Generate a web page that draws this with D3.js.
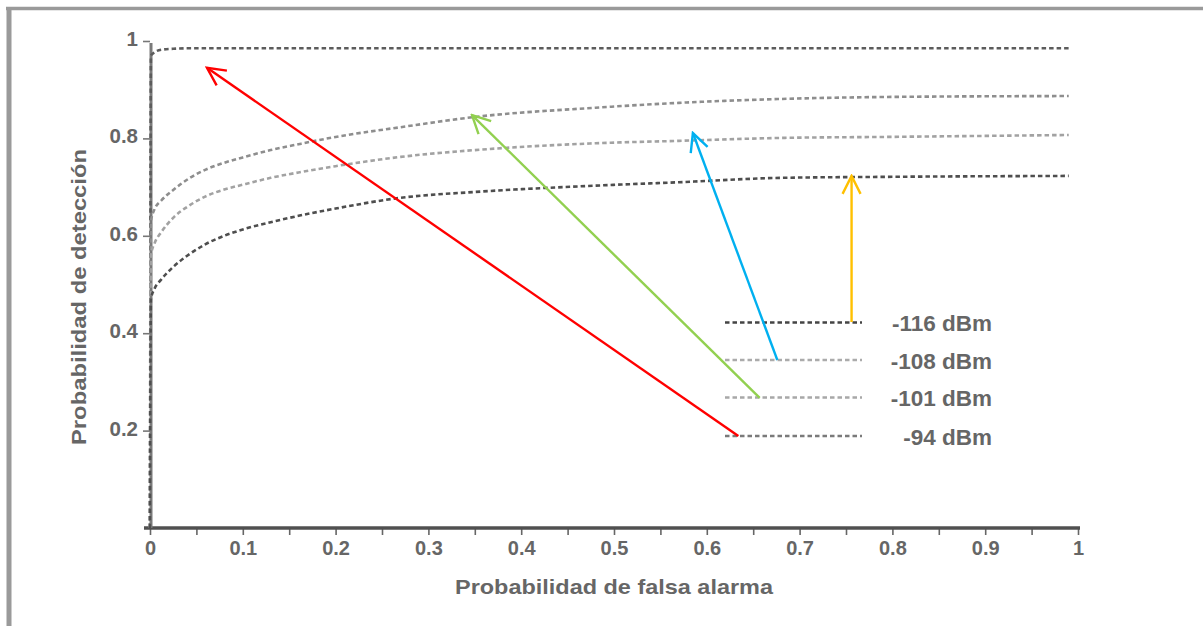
<!DOCTYPE html>
<html><head><meta charset="utf-8">
<script src="https://cdn.jsdelivr.net/npm/d3@7"></script>
<style>body{margin:0;background:#fff}svg{display:block}</style>
</head><body>
<svg id="c" width="1203" height="626"></svg>
<script>
// ---- data ----
const seriesNames = ["-94 dBm", "-101 dBm", "-108 dBm", "-116 dBm"];
const pfa   = [0, 0.001, 0.005, 0.012, 0.025, 0.043, 0.06, 0.08, 0.1, 0.13, 0.16, 0.2, 0.27, 0.35, 0.48, 0.57, 0.68, 0.79, 0.99];
const pd94  = [0, 0.970, 0.977, 0.982, 0.984, 0.985, 0.985, 0.985, 0.985, 0.985, 0.985, 0.985, 0.985, 0.985, 0.985, 0.985, 0.985, 0.985, 0.985];
const pd101 = [0, 0.630, 0.655, 0.672, 0.694, 0.719, 0.736, 0.750, 0.761, 0.776, 0.788, 0.803, 0.823, 0.844, 0.863, 0.873, 0.881, 0.885, 0.887];
const pd108 = [0, 0.560, 0.585, 0.607, 0.637, 0.663, 0.681, 0.695, 0.705, 0.719, 0.730, 0.743, 0.762, 0.776, 0.790, 0.795, 0.801, 0.803, 0.807];
const pd116 = [0, 0.470, 0.492, 0.510, 0.536, 0.563, 0.583, 0.600, 0.613, 0.628, 0.641, 0.656, 0.678, 0.690, 0.703, 0.710, 0.719, 0.721, 0.723];
const xTicks = [0, 0.05, 0.1, 0.15, 0.2, 0.25, 0.3, 0.35, 0.4, 0.45, 0.5, 0.55, 0.6, 0.65, 0.7, 0.75, 0.8, 0.85, 0.9, 0.95, 1];
const xTickLabels = ["0", "", "0.1", "", "0.2", "", "0.3", "", "0.4", "", "0.5", "", "0.6", "", "0.7", "", "0.8", "", "0.9", "", "1"];
const yTicks = [0.2, 0.4, 0.6, 0.8, 1];
const yTickLabels = ["0.2", "0.4", "0.6", "0.8", "1"];
const legendOrder = ["-116 dBm", "-108 dBm", "-101 dBm", "-94 dBm"];
// annotation arrows: from legend entry (pfa, pd) to curve (pfa, pd)
const arrowFrom = [[0.634, 0.189], [0.657, 0.267], [0.676, 0.345], [0.756, 0.423]];
const arrowTo   = [[0.0614, 0.945], [0.347, 0.848], [0.585, 0.811], [0.756, 0.723]];

// ---- styles ----
const seriesColors = {"-94 dBm": "#5c5c5c", "-101 dBm": "#8e8e8e", "-108 dBm": "#a2a2a2", "-116 dBm": "#4e4e4e"};
const legendColors = {"-94 dBm": "#7a7a7a", "-101 dBm": "#a8a8a8", "-108 dBm": "#ababab", "-116 dBm": "#444"};
const arrowColors = ["#ff0000", "#92d050", "#00b0f0", "#ffc000"];
const FONT = "'Liberation Sans', Arial, Helvetica, sans-serif";
const TXT = "#666";

const svg = d3.select("#c");
const x = d3.scaleLinear().domain([0, 1]).range([150, 1078]);
const y = d3.scaleLinear().domain([0, 1]).range([528, 41]);

// frame (top and left border)
svg.append("line").attr("x1", 6).attr("x2", 1203).attr("y1", 8.5).attr("y2", 8.5)
  .attr("stroke", "#9a9a9a").attr("stroke-width", 3.5);
svg.append("line").attr("x1", 9).attr("x2", 9).attr("y1", 7).attr("y2", 626)
  .attr("stroke", "#9a9a9a").attr("stroke-width", 5);

// X axis
const xAxis = d3.axisBottom(x).tickValues(xTicks).tickSize(7).tickSizeOuter(0).tickPadding(6)
  .tickFormat((d, i) => xTickLabels[i]);
const gx = svg.append("g").attr("transform", `translate(0,${y(0)})`).call(xAxis);
gx.select(".domain").remove();
gx.selectAll(".tick line").attr("stroke", "#666").attr("stroke-width", 1.6);
gx.selectAll(".tick text").attr("font-family", FONT).attr("font-weight", "bold")
  .attr("font-size", 20).attr("fill", TXT);
svg.append("line").attr("x1", x(0) - 6).attr("x2", x(1) + 2).attr("y1", y(0)).attr("y2", y(0))
  .attr("stroke", "#505050").attr("stroke-width", 3.5);

// Y axis
const yAxis = d3.axisLeft(y).tickValues(yTicks).tickSize(7).tickSizeOuter(0).tickPadding(5)
  .tickFormat((d, i) => yTickLabels[i]);
const gy = svg.append("g").attr("transform", `translate(${x(0)},0)`).call(yAxis);
gy.select(".domain").remove();
gy.selectAll(".tick line").attr("stroke", "#777").attr("stroke-width", 1.6);
gy.selectAll(".tick text").attr("font-family", FONT).attr("font-weight", "bold")
  .attr("font-size", 20.5).attr("fill", TXT).attr("dy", "0.22em");
svg.append("line").attr("x1", x(0) + 1).attr("x2", x(0) + 1).attr("y1", y(0)).attr("y2", y(1) + 2)
  .attr("stroke", "#7a7a7a").attr("stroke-width", 3);

// axis titles
svg.append("text").attr("x", (x(0) + x(1)) / 2 + 0).attr("y", 594)
  .attr("text-anchor", "middle").attr("font-family", FONT).attr("font-weight", "bold")
  .attr("font-size", 21).attr("fill", TXT)
  .attr("textLength", 318).attr("lengthAdjust", "spacingAndGlyphs")
  .text("Probabilidad de falsa alarma");
svg.append("text").attr("transform", `translate(86,${297}) rotate(-90)`)
  .attr("text-anchor", "middle").attr("font-family", FONT).attr("font-weight", "bold")
  .attr("font-size", 21).attr("fill", TXT)
  .attr("textLength", 296).attr("lengthAdjust", "spacingAndGlyphs")
  .text("Probabilidad de detección");

// curves
const seriesVals = {"-94 dBm": pd94, "-101 dBm": pd101, "-108 dBm": pd108, "-116 dBm": pd116};
const line = d3.line().x(d => x(d[0])).y(d => y(d[1])).curve(d3.curveMonotoneX);
seriesNames.forEach(name => {
  const pts = pfa.map((p, i) => [p, seriesVals[name][i]]);
  svg.append("path").attr("d", line(pts)).attr("fill", "none")
    .attr("stroke", seriesColors[name]).attr("stroke-width", 2.6)
    .attr("stroke-dasharray", "4.5,3");
});

// legend
const legX0 = 725, legX1 = 862, legTextX = 992;
const legYs = [322.5, 360, 397.5, 436];
legendOrder.forEach((name, i) => {
  svg.append("line").attr("x1", legX0).attr("x2", legX1).attr("y1", legYs[i]).attr("y2", legYs[i])
    .attr("stroke", legendColors[name]).attr("stroke-width", 2.6).attr("stroke-dasharray", "4.5,3");
  svg.append("text").attr("x", legTextX).attr("y", legYs[i] + 8.5)
    .attr("text-anchor", "end").attr("font-family", FONT).attr("font-weight", "bold")
    .attr("font-size", 22.5).attr("fill", TXT).text(name);
});

// arrows
const defs = svg.append("defs");
arrowColors.forEach((c, i) => {
  defs.append("marker").attr("id", "ah" + i).attr("markerUnits", "userSpaceOnUse")
    .attr("viewBox", "-20 -11 22 22").attr("refX", 0).attr("refY", 0)
    .attr("markerWidth", 22).attr("markerHeight", 22).attr("orient", "auto")
    .append("path").attr("d", "M-18,-9 L0,0 L-18,9").attr("fill", "none")
    .attr("stroke", c).attr("stroke-width", 2.4);
});
arrowFrom.forEach((f, i) => {
  const t = arrowTo[i];
  svg.append("line").attr("x1", x(f[0])).attr("y1", y(f[1])).attr("x2", x(t[0])).attr("y2", y(t[1]))
    .attr("stroke", arrowColors[i]).attr("stroke-width", 2.4)
    .attr("marker-end", `url(#ah${i})`);
});
</script>
</body></html>
